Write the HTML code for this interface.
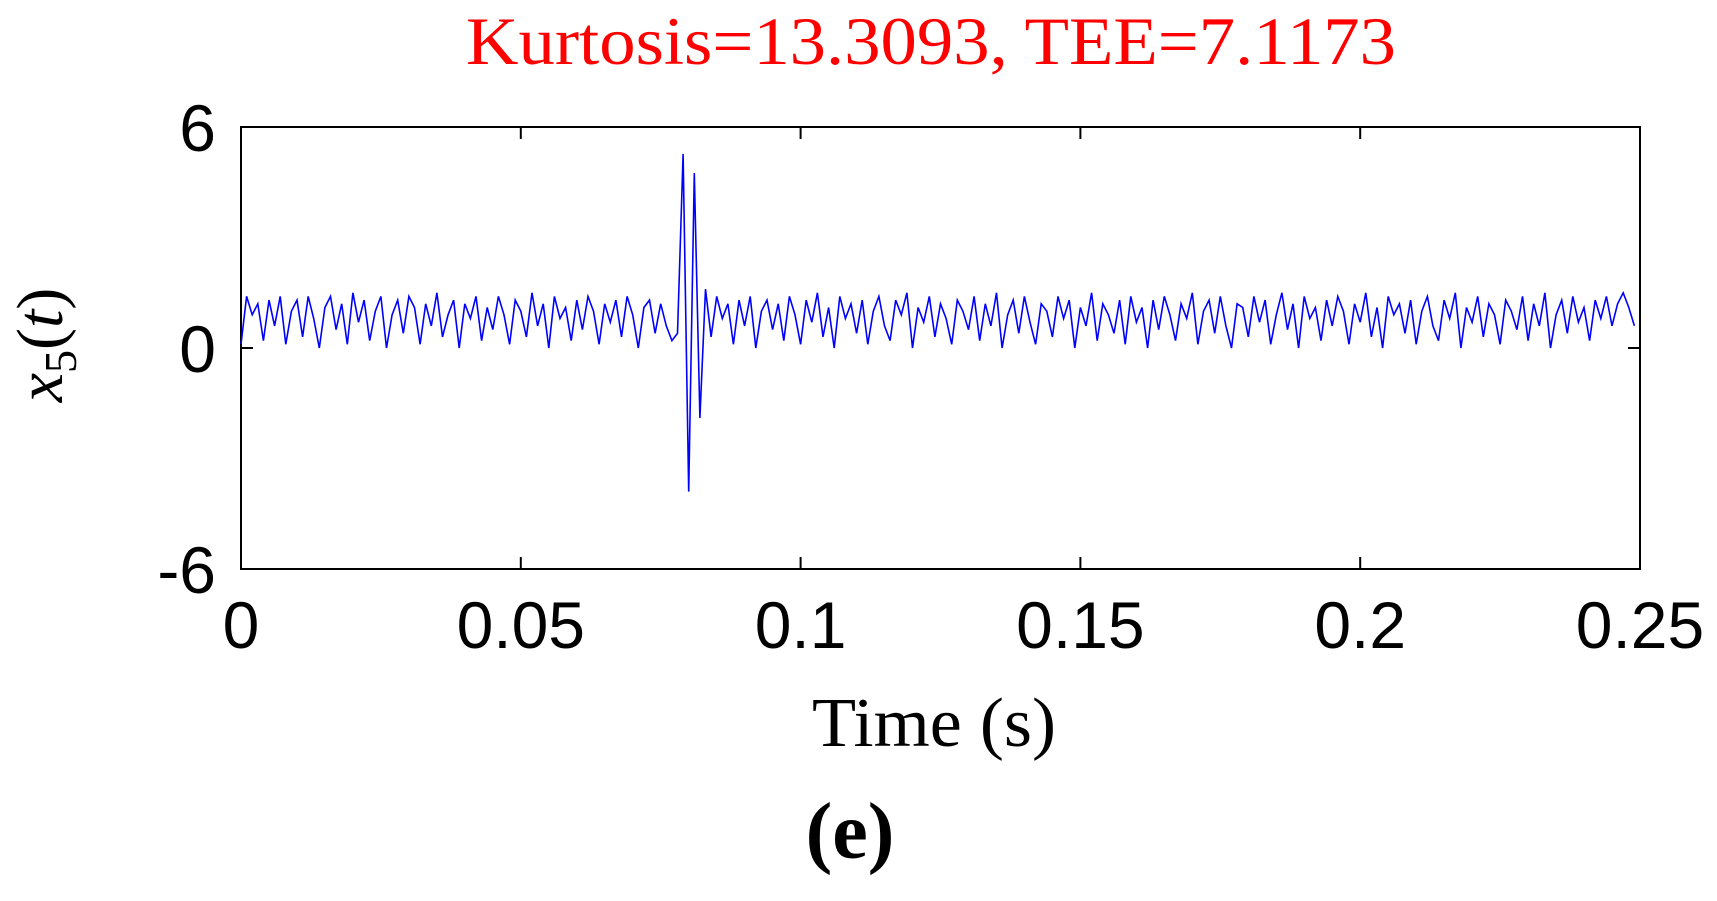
<!DOCTYPE html>
<html><head><meta charset="utf-8"><style>
html,body{margin:0;padding:0;background:#fff;}
svg{display:block;}
</style></head><body>
<svg id="chart" width="1717" height="901" xmlns="http://www.w3.org/2000/svg">
<text x="931" y="64" text-anchor="middle" fill="#ff0000" font-family="Liberation Serif, serif" font-size="68" textLength="930" lengthAdjust="spacingAndGlyphs">Kurtosis=13.3093, TEE=7.1173</text>
<g id="plot"></g>
<text x="934" y="746" text-anchor="middle" font-family="Liberation Serif, serif" font-size="70" textLength="244" lengthAdjust="spacingAndGlyphs">Time (s)</text>
<text x="850" y="858" text-anchor="middle" font-family="Liberation Serif, serif" font-size="80" font-weight="bold">(e)</text>
<text transform="translate(62,345) rotate(-90)" text-anchor="middle" font-family="Liberation Serif, serif" font-size="66" font-style="italic">x<tspan font-size="46" font-style="normal" dy="14">5</tspan><tspan dy="-14" font-style="normal">(</tspan>t<tspan font-style="normal">)</tspan></text>
</svg>
<script>
const xTicks=[0,0.05,0.1,0.15,0.2,0.25];
const xTickLabels=["0","0.05","0.1","0.15","0.2","0.25"];
const yTicks=[-6,0,6];
const yTickLabels=["-6","0","6"];
const dt=0.001;
const signal=[0.1,1.4,0.9,1.2,0.2,1.3,0.6,1.4,0.1,1.0,1.3,0.3,1.4,0.8,0.0,1.1,1.4,0.5,1.2,0.1,
1.5,0.7,1.3,0.2,1.0,1.4,0.0,0.9,1.3,0.4,1.4,1.1,0.1,1.2,0.6,1.5,0.3,0.9,1.3,0.0,
1.2,0.8,1.4,0.2,1.1,0.5,1.4,0.9,0.1,1.3,1.0,0.3,1.5,0.6,1.2,0.0,1.4,0.8,1.1,0.2,
1.3,0.5,1.4,1.0,0.1,1.2,0.7,1.3,0.3,1.4,0.9,0.0,1.1,1.3,0.4,1.2,0.6,0.2,0.4,5.27,
-3.9,4.75,-1.9,1.6,0.3,1.4,0.8,1.2,0.1,1.3,0.6,1.4,0.0,1.0,1.3,0.5,1.2,0.2,1.4,0.9,
0.1,1.3,0.7,1.5,0.3,1.1,0.0,1.4,0.8,1.2,0.4,1.3,0.1,1.0,1.4,0.6,0.2,1.3,0.9,1.5,
0.0,1.1,0.7,1.4,0.3,1.2,0.8,0.1,1.3,1.0,0.5,1.4,0.2,1.2,0.6,1.5,0.0,0.9,1.3,0.4,
1.4,0.7,0.1,1.2,1.0,0.3,1.4,0.8,1.3,0.0,1.1,0.6,1.5,0.2,1.2,0.9,0.4,1.3,0.1,1.4,
0.7,1.1,0.0,1.3,0.5,1.4,0.9,0.2,1.2,0.8,1.5,0.1,1.0,1.3,0.4,1.4,0.6,0.0,1.2,1.1,
0.3,1.4,0.7,1.3,0.1,0.9,1.5,0.5,1.2,0.0,1.4,0.8,1.1,0.2,1.3,0.6,1.4,1.0,0.1,1.2,
0.7,1.5,0.3,1.1,0.0,1.4,0.9,1.2,0.4,1.3,0.1,1.0,1.4,0.6,0.2,1.3,0.8,1.5,0.0,1.1,
0.7,1.4,0.3,1.2,0.9,0.1,1.3,1.0,0.5,1.4,0.2,1.2,0.6,1.5,0.0,0.9,1.3,0.4,1.4,0.7,
1.1,0.2,1.3,0.8,1.4,0.6,1.2,1.5,1.1,0.6];
const L=241,R=1640,T=127,B=569;
const xs=t=>L+(t-0)/(0.25-0)*(R-L);
const ys=v=>B-(v+6)/12*(B-T);
const NS="http://www.w3.org/2000/svg";
const g=document.getElementById('plot');
function mk(tag,attrs){const e=document.createElementNS(NS,tag);for(const k in attrs)e.setAttribute(k,attrs[k]);g.appendChild(e);return e;}
const box=mk('rect',{x:L,y:T,width:R-L,height:B-T,fill:'none',stroke:'#000','stroke-width':2});


let d='';
signal.forEach((v,i)=>{d+=(i?'L':'M')+xs(i*dt).toFixed(1)+','+ys(v).toFixed(1);});
const line=mk('path',{d:d,fill:'none',stroke:'#0000ff','stroke-width':1.6});


xTicks.forEach((t,i)=>{
  const x=xs(t);
  const a=mk('line',{x1:x,x2:x,y1:T,y2:T+12,stroke:'#000','stroke-width':2});
  
  
  const b=mk('line',{x1:x,x2:x,y1:B,y2:B-12,stroke:'#000','stroke-width':2});
  
  
  const tx=mk('text',{x:x,y:648,'text-anchor':'middle','font-family':'Liberation Sans, sans-serif','font-size':66});
  tx.textContent=xTickLabels[i];
  
  
});
yTicks.forEach((v,i)=>{
  const y=ys(v);
  const a=mk('line',{x1:L,x2:L+12,y1:y,y2:y,stroke:'#000','stroke-width':2});
  
  
  const b=mk('line',{x1:R,x2:R-12,y1:y,y2:y,stroke:'#000','stroke-width':2});
  
  
  const tx=mk('text',{x:216,y:y+24,'text-anchor':'end','font-family':'Liberation Sans, sans-serif','font-size':66});
  tx.textContent=yTickLabels[i];
  
  
});
</script>
</body></html>
